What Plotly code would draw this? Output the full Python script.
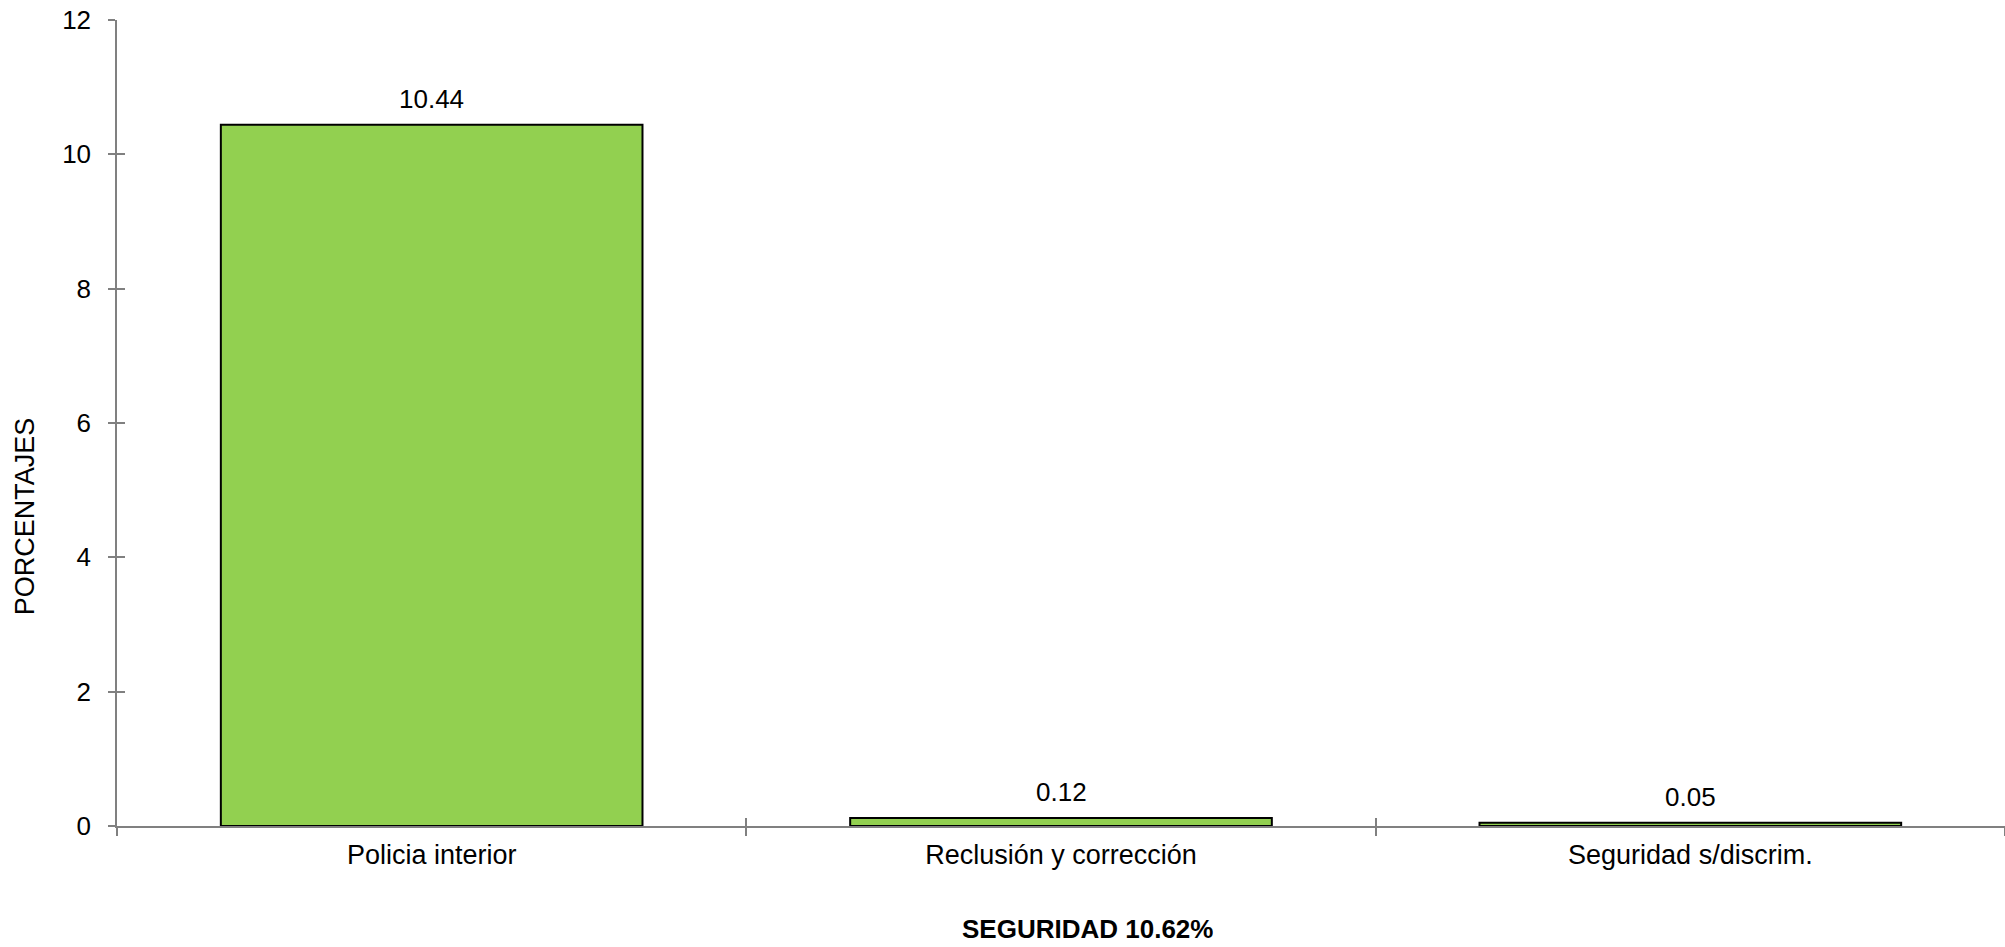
import plotly.graph_objects as go

categories = ["Policia interior", "Reclusión y corrección", "Seguridad s/discrim."]
values = [10.44, 0.12, 0.05]
value_labels = ["10.44", "0.12", "0.05"]
y_ticks = [0, 2, 4, 6, 8, 10, 12]
x_title = "SEGURIDAD 10.62%"
y_title = "PORCENTAJES"

FONT = "Liberation Sans, Arial, sans-serif"
AXIS_COLOR = "#808080"

fig = go.Figure()
fig.add_trace(go.Bar(
    x=categories, y=values,
    marker=dict(color="#92D050", line=dict(color="#000000", width=2)),
    showlegend=False, hoverinfo="x+y",
))
# invisible twin used only to draw the inner half of the crossing tick marks
fig.add_trace(go.Bar(
    x=categories, y=values, xaxis="x2", yaxis="y2",
    opacity=0, showlegend=False, hoverinfo="skip",
))

for c, v, t in zip(categories, values, value_labels):
    fig.add_annotation(x=c, y=v, text=t, showarrow=False, yanchor="bottom",
                       yshift=9, font=dict(family=FONT, size=26, color="#000"))

fig.add_annotation(xref="paper", yref="paper", x=0.514, y=-0.128, text="<b>" + x_title + "</b>",
                   showarrow=False, yanchor="middle", xanchor="center", height=30,
                   font=dict(family=FONT, size=26, color="#000"))
fig.add_annotation(xref="paper", yref="paper", x=-0.049, y=0.385, text=y_title,
                   showarrow=False, textangle=-90, xanchor="center", yanchor="middle",
                   font=dict(family=FONT, size=27, color="#000"))

fig.update_layout(
    width=2005, height=947,
    margin=dict(l=117, r=0, t=20, b=121),
    paper_bgcolor="white", plot_bgcolor="white",
    bargap=0.33,
    font=dict(family=FONT, size=26, color="#000"),
    xaxis=dict(
        type="category", range=[-0.5, 2.5], showline=True, linecolor=AXIS_COLOR, linewidth=1.5,
        ticks="outside", ticklen=8, tickwidth=1.5, tickcolor=AXIS_COLOR, tickson="boundaries",
        showgrid=False, zeroline=False, tickfont=dict(family=FONT, size=27, color="#000"),
        ticklabelstandoff=4, automargin=False,
    ),
    yaxis=dict(
        range=[0, 12], tickvals=y_ticks, showline=True, linecolor=AXIS_COLOR, linewidth=1.5,
        ticks="outside", ticklen=7, tickwidth=1.5, tickcolor=AXIS_COLOR,
        showgrid=False, zeroline=False, tickfont=dict(family=FONT, size=26, color="#000"),
        ticklabelstandoff=12, automargin=False,
    ),
    xaxis2=dict(
        type="category", range=[-0.5, 2.5], overlaying="x", anchor="y2",
        ticks="inside", ticklen=8, tickwidth=1.5, tickcolor=AXIS_COLOR, tickson="boundaries",
        showticklabels=False, showline=False, showgrid=False, zeroline=False, automargin=False,
    ),
    yaxis2=dict(
        range=[0, 12], tickvals=y_ticks, overlaying="y", anchor="x2", side="left",
        ticks="inside", ticklen=8, tickwidth=1.5, tickcolor=AXIS_COLOR,
        showticklabels=False, showline=False, showgrid=False, zeroline=False, automargin=False,
    ),
)

fig.write_html(
    "out.html",
    config={"displayModeBar": False},
    post_script="document.body.style.margin='0';document.documentElement.style.overflow='hidden';",
)
